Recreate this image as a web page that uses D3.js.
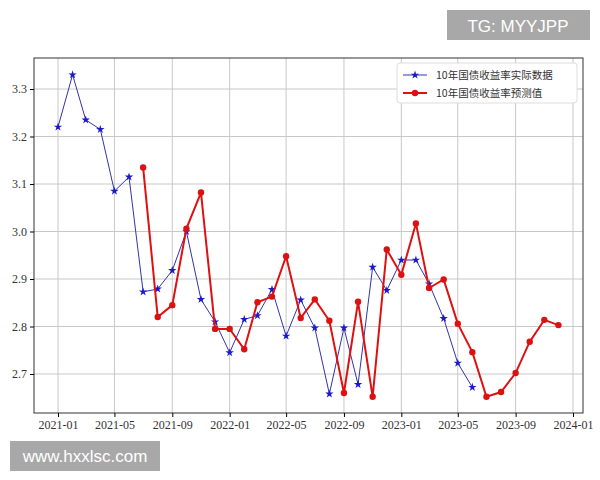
<!DOCTYPE html><html><head><meta charset="utf-8"><script src="https://cdn.jsdelivr.net/npm/d3@7"></script>
<style>body{margin:0;background:#fff}</style></head><body><svg id="c" width="600" height="480"></svg>
<script>
const actualMonths = d3.range(30).map(i=>new Date(2021,i,1));
const actualValues = [3.22,3.33,3.235,3.215,3.085,3.115,2.873,2.879,2.918,3.00,2.857,2.81,2.745,2.815,2.823,2.878,2.78,2.856,2.797,2.658,2.797,2.678,2.925,2.876,2.94,2.94,2.89,2.817,2.723,2.672];
const predMonths = d3.range(30).map(i=>new Date(2021,6+i,1));
const predValues = [3.135,2.82,2.845,3.006,3.082,2.795,2.795,2.752,2.851,2.863,2.948,2.818,2.857,2.812,2.66,2.852,2.652,2.962,2.909,3.017,2.881,2.899,2.806,2.746,2.652,2.662,2.702,2.768,2.814,2.803];
const yTicks = [2.7,2.8,2.9,3.0,3.1,3.2,3.3];
const xTicks = ["2021-01","2021-05","2021-09","2022-01","2022-05","2022-09","2023-01","2023-05","2023-09","2024-01"];
const legendLabels = ["10年国债收益率实际数据","10年国债收益率预测值"];

const svg=d3.select("#c");
const L=34,R=583,T=58,B=413;
const x=d3.scaleTime().domain([new Date(2021,0,1),new Date(2024,0,1)]).range([58,573]);
const y=d3.scaleLinear().domain([2.7,3.3]).range([374,89]);
const parse=d3.timeParse("%Y-%m");
const g=svg.append("g");
g.selectAll(".gx").data(xTicks).join("line").attr("x1",d=>x(parse(d))).attr("x2",d=>x(parse(d))).attr("y1",T).attr("y2",B).attr("stroke","#c8c8c8");
g.selectAll(".gy").data(yTicks).join("line").attr("x1",L).attr("x2",R).attr("y1",d=>y(d)).attr("y2",d=>y(d)).attr("stroke","#c8c8c8");
svg.append("rect").attr("x",L).attr("y",T).attr("width",R-L).attr("height",B-T).attr("fill","none").attr("stroke","#333");
const ft="'Liberation Serif','DejaVu Serif',serif";
svg.append("g").attr("transform",`translate(0,${B})`).call(d3.axisBottom(x).tickValues(xTicks.map(parse)).tickFormat(d3.timeFormat("%Y-%m")).tickSizeOuter(0).tickSize(4))
 .call(a=>{a.select(".domain").remove();a.selectAll("text").attr("font-family",ft).attr("font-size",12).attr("fill","#333")});
svg.append("g").attr("transform",`translate(${L},0)`).call(d3.axisLeft(y).tickValues(yTicks).tickFormat(d3.format(".1f")).tickSize(4))
 .call(a=>{a.select(".domain").remove();a.selectAll("text").attr("font-family",ft).attr("font-size",12).attr("fill","#333")});
const line=d3.line().x(d=>x(d[0])).y(d=>y(d[1]));
const A=actualMonths.map((m,i)=>[m,actualValues[i]]), P=predMonths.map((m,i)=>[m,predValues[i]]);
const star=d3.symbol().type(d3.symbolStar).size(22);
svg.append("path").attr("d",line(A)).attr("fill","none").attr("stroke","#3333aa").attr("stroke-width",1);
svg.selectAll(".s").data(A).join("path").attr("d",star).attr("transform",d=>`translate(${x(d[0])},${y(d[1])})`).attr("fill","#1a1acc");
svg.append("path").attr("d",line(P)).attr("fill","none").attr("stroke","#dd1111").attr("stroke-width",2);
svg.selectAll(".p").data(P).join("circle").attr("cx",d=>x(d[0])).attr("cy",d=>y(d[1])).attr("r",3.2).attr("fill","#dd1111");
const lg=svg.append("g");
lg.append("rect").attr("x",397).attr("y",63).attr("width",180).attr("height",40).attr("fill","#fff").attr("stroke","#ddd").attr("rx",3);
legendLabels.forEach((t,i)=>{const yy=75+i*18;
 lg.append("line").attr("x1",403).attr("x2",427).attr("y1",yy).attr("y2",yy).attr("stroke",i?"#dd1111":"#3333aa").attr("stroke-width",i?2:1);
 if(i) lg.append("circle").attr("cx",415).attr("cy",yy).attr("r",3.2).attr("fill","#dd1111");
 else lg.append("path").attr("d",star).attr("transform",`translate(415,${yy})`).attr("fill","#1a1acc");
 lg.append("text").attr("x",436).attr("y",yy+4).text(t).attr("font-family","Noto Sans CJK SC").attr("font-size",10.5).attr("fill","#333");});
svg.append("rect").attr("x",447).attr("y",10).attr("width",143).attr("height",30).attr("fill","#a8a8a8");
svg.append("text").attr("x",518).attr("y",32).attr("text-anchor","middle").text("TG: MYYJPP").attr("fill","#fff").attr("font-family","Liberation Sans").attr("font-size",17);
svg.append("rect").attr("x",10).attr("y",441).attr("width",150).attr("height",30).attr("fill","#a8a8a8");
svg.append("text").attr("x",85).attr("y",462).attr("text-anchor","middle").text("www.hxxlsc.com").attr("fill","#fff").attr("font-family","Liberation Sans").attr("font-size",17);
</script></body></html>
